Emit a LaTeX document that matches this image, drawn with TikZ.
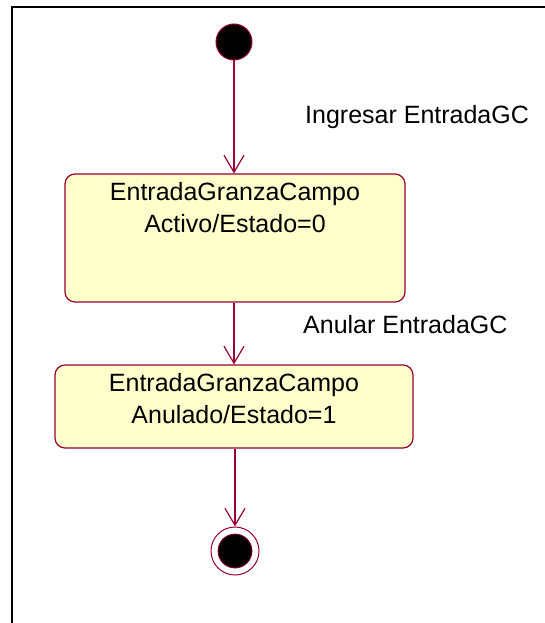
\documentclass[tikz,border=0pt]{standalone}
\usepackage{fontspec}
\setmainfont{Liberation Sans}
\usepackage{tikz}
\usetikzlibrary{arrows.meta,positioning}
\definecolor{granate}{RGB}{153,0,51}
\definecolor{crema}{RGB}{255,255,204}

\begin{document}
\begin{tikzpicture}[x=1pt,y=-1pt]
            \tikzset{estado/.style={rectangle, rounded corners=10pt, draw=granate, fill=crema, line width=1.2pt}}
            \tikzset{texto/.style={inner sep=0pt, align=center, font=\fontsize{25}{32}\selectfont}}
            \tikzset{transicion/.style={draw=granate, line width=1.2pt, -{Straight Barb[length=17pt,width=20pt]}}}

            \useasboundingbox (0,0) rectangle (545,623);
            % marco
            \draw[line width=2pt] (545,7) -- (12,7) -- (12,623);

            % inicio
            \node[circle, fill=black, draw=granate, line width=1pt, minimum size=36pt, inner sep=0pt] (inicio) at (234,42) {};

            % estados
            \node[estado, minimum width=340pt, minimum height=128pt] (activo) at (235,238) {};
            \node[texto, below=9pt of activo.north] (txtActivo) {EntradaGranzaCampo\\Activo/Estado=0};

            \node[estado, minimum width=358pt, minimum height=83pt] (anulado) at (234,406.5) {};
            \node[texto, below=9pt of anulado.north] (txtAnulado) {EntradaGranzaCampo\\Anulado/Estado=1};

            % fin
            \node[circle, draw=granate, fill=white, line width=1pt, minimum size=48pt, inner sep=0pt] (fin) at (235,551) {};
            \node[circle, fill=black, draw=granate, line width=0.8pt, minimum size=34pt, inner sep=0pt] (finpunto) at (fin.center) {};

            % transiciones
            \draw[transicion] (inicio) -- (inicio |- activo.north);
            \draw[transicion] (activo.south -| anulado.north) -- (anulado.north);
            \draw[transicion] (anulado.south -| fin.north) -- (fin.north);

            \node[texto, anchor=base west] (lblIngresar) at (305,123) {Ingresar EntradaGC};
            \node[texto, anchor=base west] (lblAnular) at (303,333) {Anular EntradaGC};
\end{tikzpicture}
\end{document}
